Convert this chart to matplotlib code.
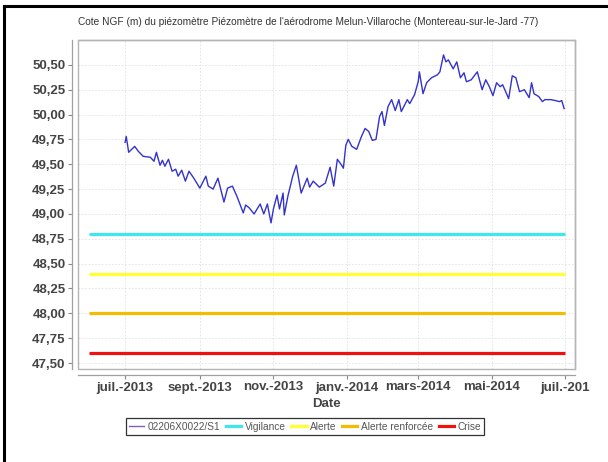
import matplotlib
matplotlib.use('Agg')
import matplotlib.pyplot as plt
from matplotlib.lines import Line2D
from matplotlib.patches import Rectangle
from matplotlib.ticker import FuncFormatter
import numpy as np
import pandas as pd

# --- données ---
dates = ["2013-07-01", "2013-07-02", "2013-07-04", "2013-07-09", "2013-07-12", "2013-07-16",
         "2013-07-22", "2013-07-25", "2013-07-27", "2013-07-30", "2013-08-01", "2013-08-03",
         "2013-08-06", "2013-08-09", "2013-08-12", "2013-08-14", "2013-08-17", "2013-08-20",
         "2013-08-23", "2013-08-27", "2013-09-01", "2013-09-06", "2013-09-08", "2013-09-12",
         "2013-09-16", "2013-09-21", "2013-09-24", "2013-09-28", "2013-10-02", "2013-10-07",
         "2013-10-09", "2013-10-12", "2013-10-16", "2013-10-21", "2013-10-24", "2013-10-27",
         "2013-10-30", "2013-11-01", "2013-11-04", "2013-11-06", "2013-11-09", "2013-11-10",
         "2013-11-13", "2013-11-17", "2013-11-20", "2013-11-24", "2013-11-29", "2013-12-01",
         "2013-12-04", "2013-12-09", "2013-12-14", "2013-12-18", "2013-12-21", "2013-12-24",
         "2013-12-27", "2013-12-29", "2013-12-31", "2014-01-02", "2014-01-05", "2014-01-09",
         "2014-01-13", "2014-01-16", "2014-01-19", "2014-01-22", "2014-01-25", "2014-01-28",
         "2014-01-30", "2014-02-01", "2014-02-04", "2014-02-07", "2014-02-10", "2014-02-13",
         "2014-02-15", "2014-02-20", "2014-02-22", "2014-02-26", "2014-03-01", "2014-03-02",
         "2014-03-05", "2014-03-08", "2014-03-12", "2014-03-17", "2014-03-19", "2014-03-22",
         "2014-03-24", "2014-03-26", "2014-03-30", "2014-04-02", "2014-04-05", "2014-04-08",
         "2014-04-10", "2014-04-14", "2014-04-19", "2014-04-23", "2014-04-26", "2014-04-29",
         "2014-05-02", "2014-05-05", "2014-05-08", "2014-05-10", "2014-05-15", "2014-05-18",
         "2014-05-21", "2014-05-24", "2014-05-28", "2014-06-01", "2014-06-03", "2014-06-05",
         "2014-06-09", "2014-06-12", "2014-06-14", "2014-06-19", "2014-06-23", "2014-06-26",
         "2014-06-28", "2014-06-30"]
niveau = [49.72, 49.78, 49.62, 49.68, 49.63, 49.58,
          49.57, 49.53, 49.62, 49.49, 49.54, 49.48,
          49.55, 49.43, 49.45, 49.38, 49.44, 49.33,
          49.43, 49.36, 49.26, 49.38, 49.28, 49.25,
          49.36, 49.12, 49.26, 49.28, 49.17, 49.01,
          49.09, 49.06, 49.00, 49.10, 49.00, 49.10,
          48.91, 49.05, 49.19, 49.05, 49.21, 48.99,
          49.18, 49.38, 49.49, 49.21, 49.36, 49.27,
          49.33, 49.27, 49.31, 49.47, 49.28, 49.55,
          49.50, 49.46, 49.69, 49.75, 49.68, 49.65,
          49.78, 49.86, 49.83, 49.74, 49.75, 49.98,
          50.03, 49.89, 50.08, 50.15, 50.04, 50.15,
          50.03, 50.15, 50.11, 50.20, 50.33, 50.43,
          50.21, 50.32, 50.37, 50.40, 50.43, 50.60,
          50.53, 50.55, 50.46, 50.53, 50.37, 50.42,
          50.33, 50.35, 50.43, 50.25, 50.35, 50.28,
          50.19, 50.32, 50.28, 50.30, 50.16, 50.39,
          50.37, 50.23, 50.25, 50.17, 50.32, 50.21,
          50.18, 50.13, 50.15, 50.15, 50.14, 50.13,
          50.14, 50.06]

seuils_noms = ["Vigilance", "Alerte", "Alerte renforcée", "Crise"]
seuils_valeurs = [48.8, 48.4, 48.0, 47.6]
seuils_couleurs = ["#3ee6f0", "#ffff33", "#f2bd00", "#ee1111"]
seuils_periode = ["2013-06-01", "2014-07-01"]

mois_ticks = ["2013-07-01", "2013-09-01", "2013-11-01", "2014-01-01", "2014-03-01", "2014-05-01", "2014-07-01"]
mois_labels = ["juil.-2013", "sept.-2013", "nov.-2013", "janv.-2014", "mars-2014", "mai-2014", "juil.-201"]

titre = "Cote NGF (m) du piézomètre Piézomètre de l'aérodrome Melun-Villaroche (Montereau-sur-le-Jard -77)"

plt.rcParams['font.family'] = ['Liberation Sans', 'DejaVu Sans']
plt.rcParams['font.weight'] = 'bold'

fig = plt.figure(figsize=(6.08, 4.62), dpi=100)
ax = fig.add_axes([78 / 608, 1 - 369 / 462, (575 - 78) / 608, (369 - 40) / 462])

d = pd.to_datetime(dates)
ax.plot(d, niveau, color='#3333cc', lw=1.0, label='02206X0022/S1', zorder=4)

sp = pd.to_datetime(seuils_periode)
for nom, val, col in zip(seuils_noms, seuils_valeurs, seuils_couleurs):
    ax.plot(sp, [val, val], color=col, lw=2.3, label=nom, zorder=3, solid_capstyle='butt')

ax.set_xlim(pd.Timestamp("2013-05-23"), pd.Timestamp("2014-07-09"))
ax.set_ylim(47.44, 50.75)

ax.set_yticks(np.arange(47.5, 50.51, 0.25))
ax.yaxis.set_major_formatter(FuncFormatter(lambda v, p: f"{v:.2f}".replace('.', ',')))
ax.set_xticks(pd.to_datetime(mois_ticks))
ax.set_xticklabels(mois_labels)

ax.tick_params(axis='both', length=3, width=0.8, color='#888888', direction='out', pad=2,
               labelsize=9.5, labelcolor='#444444')

ax.grid(True, color='#e0e0e0', lw=0.6, linestyle=(0, (2, 2)))
ax.set_axisbelow(True)

for s in ['top', 'right']:
    ax.spines[s].set_color('#b4b4b4')
    ax.spines[s].set_linewidth(1.0)
for s in ['left', 'bottom']:
    ax.spines[s].set_position(('outward', 4))
    ax.spines[s].set_color('#a0a0a0')
    ax.spines[s].set_linewidth(0.9)
ax.add_patch(Rectangle((0, 0), 1, 1, transform=ax.transAxes, fill=False,
                       edgecolor='#b4b4b4', lw=1.0, zorder=5, clip_on=False))

ax.set_xlabel("Date", fontsize=9.5, fontweight='bold', color='#444444', labelpad=3)

fig.text(308 / 608, 1 - 22 / 462, titre, ha='center', va='center', fontsize=7.3,
         fontweight='normal', color='#333333')

poignees = [Line2D([], [], color='#8060c0', lw=1.0)] + \
    [Line2D([], [], color=c, lw=2.3) for c in seuils_couleurs]
leg = fig.legend(poignees, ['02206X0022/S1'] + seuils_noms, loc='center',
                 bbox_to_anchor=(305 / 608, 1 - 426.5 / 462), ncol=5,
                 prop={'size': 7.3, 'weight': 'normal'},
                 frameon=True, fancybox=False, handlelength=1.5, handletextpad=0.35,
                 columnspacing=0.55, borderpad=0.3, borderaxespad=0)
leg.get_frame().set_edgecolor('black')
leg.get_frame().set_linewidth(0.9)
for t in leg.get_texts():
    t.set_color('#555555')

# cadre noir (haut et gauche)
fig.add_artist(Line2D([4 / 608, 1], [1 - 5.5 / 462, 1 - 5.5 / 462], color='black', lw=2.2, transform=fig.transFigure))
fig.add_artist(Line2D([4 / 608, 4 / 608], [0, 1 - 5.5 / 462], color='black', lw=2.2, transform=fig.transFigure))

fig.savefig('out.png', dpi=100)
